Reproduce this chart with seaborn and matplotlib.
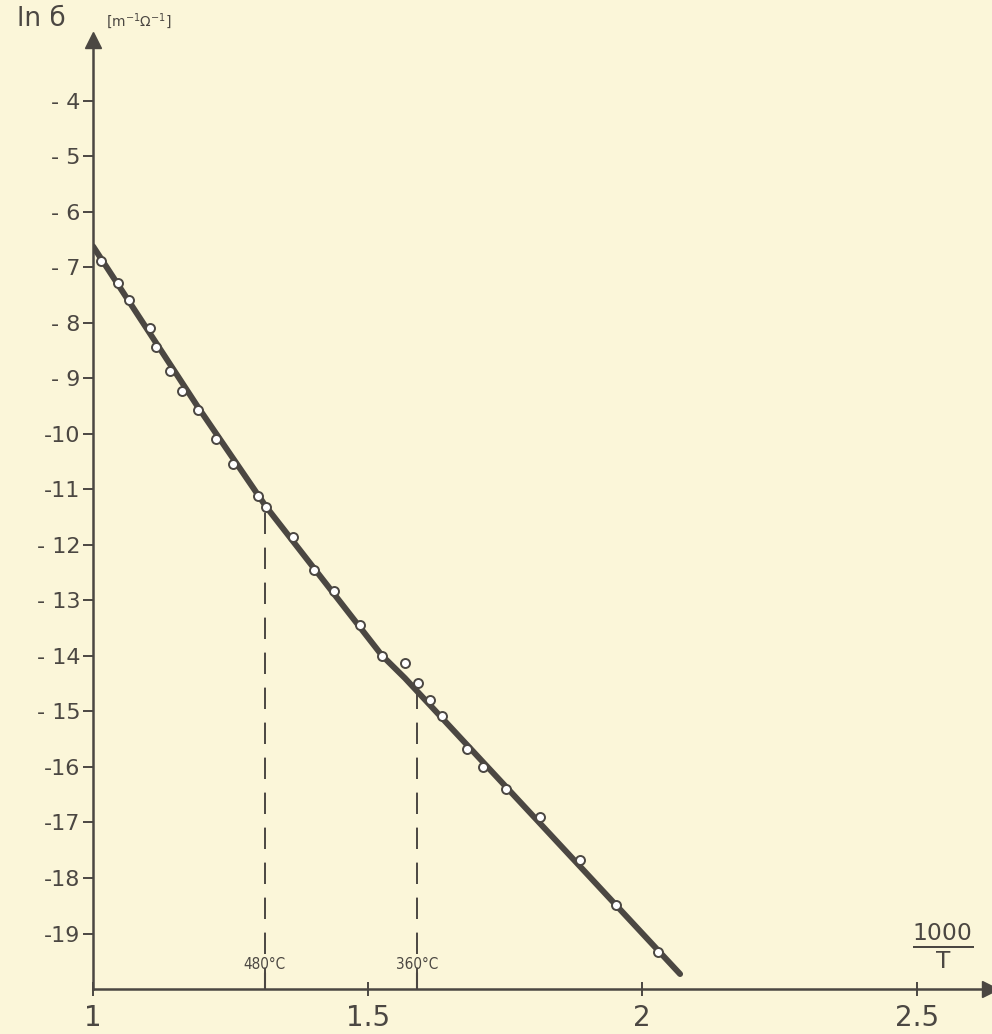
import seaborn as sns
import matplotlib.pyplot as plt
import pandas as pd

# measured points: 1000/T and ln(sigma)
inv_t = [1.015, 1.046, 1.066, 1.104, 1.115, 1.140, 1.162, 1.191, 1.224, 1.255,
         1.300, 1.315, 1.364, 1.403, 1.439, 1.486, 1.526, 1.568, 1.592, 1.614,
         1.636, 1.681, 1.710, 1.752, 1.814, 1.887, 1.953, 2.029]
ln_sigma = [-6.89, -7.29, -7.58, -8.10, -8.44, -8.86, -9.22, -9.56, -10.09, -10.55,
            -11.11, -11.31, -11.85, -12.45, -12.83, -13.45, -14.00, -14.13, -14.49, -14.80,
            -15.09, -15.68, -16.00, -16.40, -16.90, -17.68, -18.48, -19.33]

# hand drawn fit line (broken line)
fit_x = [1.0, 1.19, 1.315, 1.526, 1.568, 2.069]
fit_y = [-6.62, -9.50, -11.31, -13.99, -14.40, -19.73]

# transition temperatures
trans_x = [1.313, 1.590]
trans_top = [-11.4, -14.6]
trans_lbl = ["480°C", "360°C"]

yticks = list(range(-4, -20, -1))
ylabels = ["- 4", "- 5", "- 6", "- 7", "- 8", "- 9", "-10", "-11", "- 12", "- 13",
           "- 14", "- 15", "-16", "-17", "-18", "-19"]
xticks = [1, 1.5, 2, 2.5]
xlabels = ["1", "1.5", "2", "2.5"]

bg = "#fbf6d9"
ink = "#4b4742"

sns.set_style("ticks")
plt.rcParams['font.family'] = ['DejaVu Sans']

fig = plt.figure(figsize=(9.92, 10.34), dpi=100, facecolor=bg)
ax = fig.add_axes([0.0938, 0.0435, 0.904, 0.918], facecolor=bg)

pts = pd.DataFrame({"x": inv_t, "y": ln_sigma})
fit = pd.DataFrame({"x": fit_x, "y": fit_y})

sns.lineplot(data=fit, x="x", y="y", ax=ax, color=ink, lw=4.3,
             solid_capstyle="round", sort=False, zorder=3)
sns.scatterplot(data=pts, x="x", y="y", ax=ax, s=42, color="white",
                edgecolor=ink, linewidth=1.4, zorder=4)

for x, top, lbl in zip(trans_x, trans_top, trans_lbl):
    ax.plot([x, x], [-20, top], color=ink, lw=1.4, ls=(0, (11, 7)), zorder=2)
    ax.plot([x, x], [-20, -19.72], color=ink, lw=1.5, zorder=2)
    ax.text(x, -19.7, lbl, ha="center", va="bottom", fontsize=11,
            color=ink, fontstretch="condensed")

ax.set_xlim(1, 2.633)
ax.set_ylim(-20, -2.9)
ax.set_xticks(xticks)
ax.set_xticklabels(xlabels, fontsize=20, color=ink)
ax.set_yticks(yticks)
ax.set_yticklabels(ylabels, fontsize=16, color=ink)
ax.tick_params(axis="x", direction="inout", length=10, width=1.4, color=ink, pad=6)
ax.tick_params(axis="y", direction="out", length=7, width=1.4, color=ink, pad=2)
ax.set_xlabel("")
ax.set_ylabel("")

sns.despine(ax=ax)
for side in ["left", "bottom"]:
    ax.spines[side].set_color(ink)
    ax.spines[side].set_linewidth(1.8)

# axis arrows
ax.plot(1, 0, ">", color=ink, ms=12, transform=ax.transAxes, clip_on=False)
ax.plot(0, 1, "^", color=ink, ms=12, transform=ax.transAxes, clip_on=False)

ax.text(-0.058, 1.022, "ln б", transform=ax.transAxes, fontsize=19,
        color=ink, ha="center", va="center")
ax.text(0.014, 1.02, "[m$^{-1}$Ω$^{-1}$]", transform=ax.transAxes, fontsize=10,
        color=ink, ha="left", va="center")
ax.text(0.948, 0.045, r"$\frac{\mathrm{1000}}{\mathrm{T}}$", transform=ax.transAxes,
        fontsize=24, color=ink, ha="center", va="center")

fig.savefig("out.png", dpi=100, facecolor=bg)
